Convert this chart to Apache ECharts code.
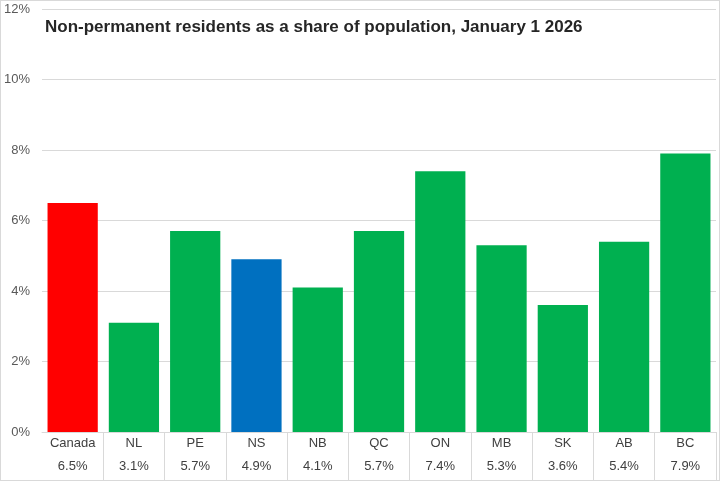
<!DOCTYPE html>
<html><head><meta charset="utf-8">
<script src="https://cdn.jsdelivr.net/npm/echarts@6/dist/echarts.min.js"></script>
<style>
html,body{margin:0;padding:0;background:#fff;}
#c{width:720px;height:481px;box-sizing:border-box;border:1px solid #d9d9d9;}
</style></head>
<body><div id="c"></div>
<script>
const categories = ['Canada','NL','PE','NS','NB','QC','ON','MB','SK','AB','BC'];
const shares = [6.5, 3.1, 5.7, 4.9, 4.1, 5.7, 7.4, 5.3, 3.6, 5.4, 7.9];
const barColors = ['#FF0000','#00B050','#00B050','#0070C0','#00B050','#00B050','#00B050','#00B050','#00B050','#00B050','#00B050'];
const yTicks = [0, 2, 4, 6, 8, 10, 12];

const chart = echarts.init(document.getElementById('c'));
const font = '"Liberation Sans",sans-serif';
chart.setOption({
  animation: false,
  title: {
    text: 'Non-permanent residents as a share of population, January 1 2026',
    left: 39, top: 13,
    textStyle: {fontFamily: font, fontWeight: 'bold', fontSize: 17, color: '#262626'}
  },
  grid: {left: 41, right: 3, top: 8, bottom: 48},
  xAxis: {
    type: 'category',
    data: categories,
    axisLine: {lineStyle: {color: '#d9d9d9'}},
    axisTick: {show: true, interval: (i) => i !== 0, length: 48, lineStyle: {color: '#d9d9d9'}},
    axisLabel: {
      interval: 0, margin: 0,
      formatter: (v, i) => '{c|' + v + '}\n{v|' + shares[i].toFixed(1) + '%}',
      rich: {
        c: {fontFamily: font, fontSize: 13, color: '#404040', lineHeight: 23},
        v: {fontFamily: font, fontSize: 13, color: '#404040', lineHeight: 23}
      }
    }
  },
  yAxis: {
    type: 'value',
    min: yTicks[0], max: yTicks[yTicks.length - 1], interval: 2,
    axisLine: {show: false}, axisTick: {show: false},
    splitLine: {lineStyle: {color: '#d9d9d9'}},
    axisLabel: {margin: 12, formatter: '{value}%', fontFamily: font, fontSize: 13, color: '#595959'}
  },
  series: [{
    type: 'bar',
    data: shares.map((v, i) => ({value: v, itemStyle: {color: barColors[i]}})),
    barCategoryGap: '18%'
  }]
});
</script></body></html>
